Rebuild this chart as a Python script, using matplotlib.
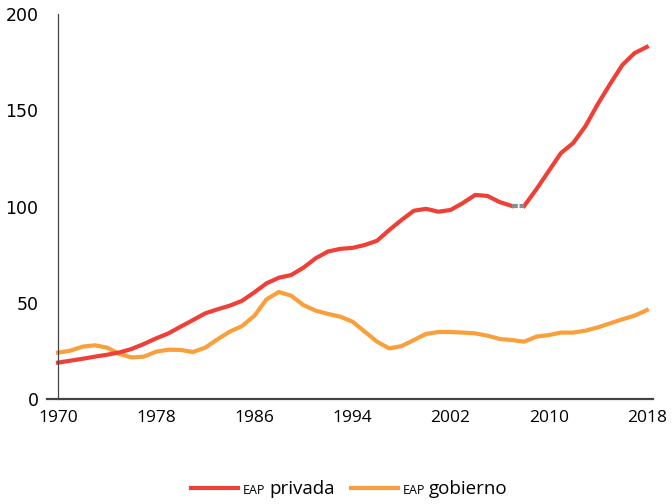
import numpy as np
import matplotlib
matplotlib.use("Agg")
import matplotlib.pyplot as plt
from matplotlib.offsetbox import (AnchoredOffsetbox, DrawingArea, HPacker,
                                  TextArea)
from matplotlib.lines import Line2D

# data
years = np.arange(1970, 2019)
privada = [18.9, 19.9, 20.9, 22.0, 23.0, 24.2, 26.0, 28.6, 31.5, 34.1,
           37.6, 41.0, 44.5, 46.6, 48.5, 51.0, 55.4, 60.1, 63.0, 64.4,
           68.2, 73.1, 76.6, 78.0, 78.5, 80.0, 82.2, 87.8, 93.0, 97.8,
           98.8, 97.3, 98.2, 101.8, 106.0, 105.5, 102.3, 100.3, 100.3, 109.0,
           118.4, 127.8, 133.0, 141.8, 153.2, 163.6, 173.5, 179.7, 182.9]
gobierno = [24.1, 25.1, 27.2, 27.9, 26.7, 23.4, 21.6, 22.0, 24.6, 25.6,
            25.5, 24.4, 26.7, 31.0, 35.0, 37.9, 43.2, 51.8, 55.6, 53.7,
            48.8, 45.9, 44.2, 42.8, 40.2, 35.0, 29.8, 26.3, 27.5, 30.6,
            33.8, 34.8, 34.8, 34.5, 34.1, 32.9, 31.2, 30.6, 29.8, 32.4,
            33.2, 34.5, 34.5, 35.5, 37.2, 39.3, 41.4, 43.3, 46.2]
xticks = [1970, 1978, 1986, 1994, 2002, 2010, 2018]
yticks = [0, 50, 100, 150, 200]
gap_years = (2007, 2008)  # segment drawn in grey

red = "#EE4036"
orange = "#F9A03C"
grey = "#8C8C8C"
font = "Open Sans"

privada = np.array(privada)
gobierno = np.array(gobierno)

fig = plt.figure(figsize=(6.72, 5.04), dpi=100)
ax = fig.add_axes([47 / 672, 1 - 399 / 504, (653 - 47) / 672, 385 / 504])

ax.plot(years, gobierno, color=orange, lw=3, solid_joinstyle="round")
before = years <= gap_years[0]
after = years >= gap_years[1]
gap = (years >= gap_years[0]) & (years <= gap_years[1])
ax.plot(years[before], privada[before], color=red, lw=3, solid_joinstyle="round")
ax.plot(years[after], privada[after], color=red, lw=3, solid_joinstyle="round")
ax.plot(years[gap], privada[gap], color=grey, lw=3, dashes=[1.4, 0.4],
        solid_capstyle="butt")

ax.set_xlim(1969.1, 2018.5)
ax.set_ylim(0, 200)
ax.set_xticks(xticks)
ax.set_yticks(yticks)
ax.tick_params(length=0, labelsize=12.5)
ax.tick_params(axis="y", pad=14)
ax.tick_params(axis="x", pad=8)
for lab in ax.get_xticklabels() + ax.get_yticklabels():
    lab.set_fontfamily(font)

for s in ["top", "right"]:
    ax.spines[s].set_visible(False)
ax.spines["left"].set_position(("data", 1970))
ax.spines["left"].set_color("#444444")
ax.spines["left"].set_linewidth(0.9)
ax.spines["bottom"].set_color("#444444")
ax.spines["bottom"].set_linewidth(1.6)


def legend_entry(color, name):
    da = DrawingArea(34, 10, 0, 0)
    da.add_artist(Line2D([0, 34], [5, 5], color=color, lw=3))
    small = TextArea("EAP", textprops=dict(size=9, family=font))
    big = TextArea(name, textprops=dict(size=13.5, family=font))
    return HPacker(children=[da, small, big], align="baseline", pad=0, sep=3)


box = HPacker(children=[legend_entry(red, "privada"),
                        legend_entry(orange, "gobierno")],
              align="center", pad=0, sep=12)
anchored = AnchoredOffsetbox(loc="lower center", child=box, frameon=False,
                             bbox_to_anchor=(0.52, 0.0),
                             bbox_transform=fig.transFigure, borderpad=0)
fig.add_artist(anchored)

fig.savefig("out.png", dpi=100)
